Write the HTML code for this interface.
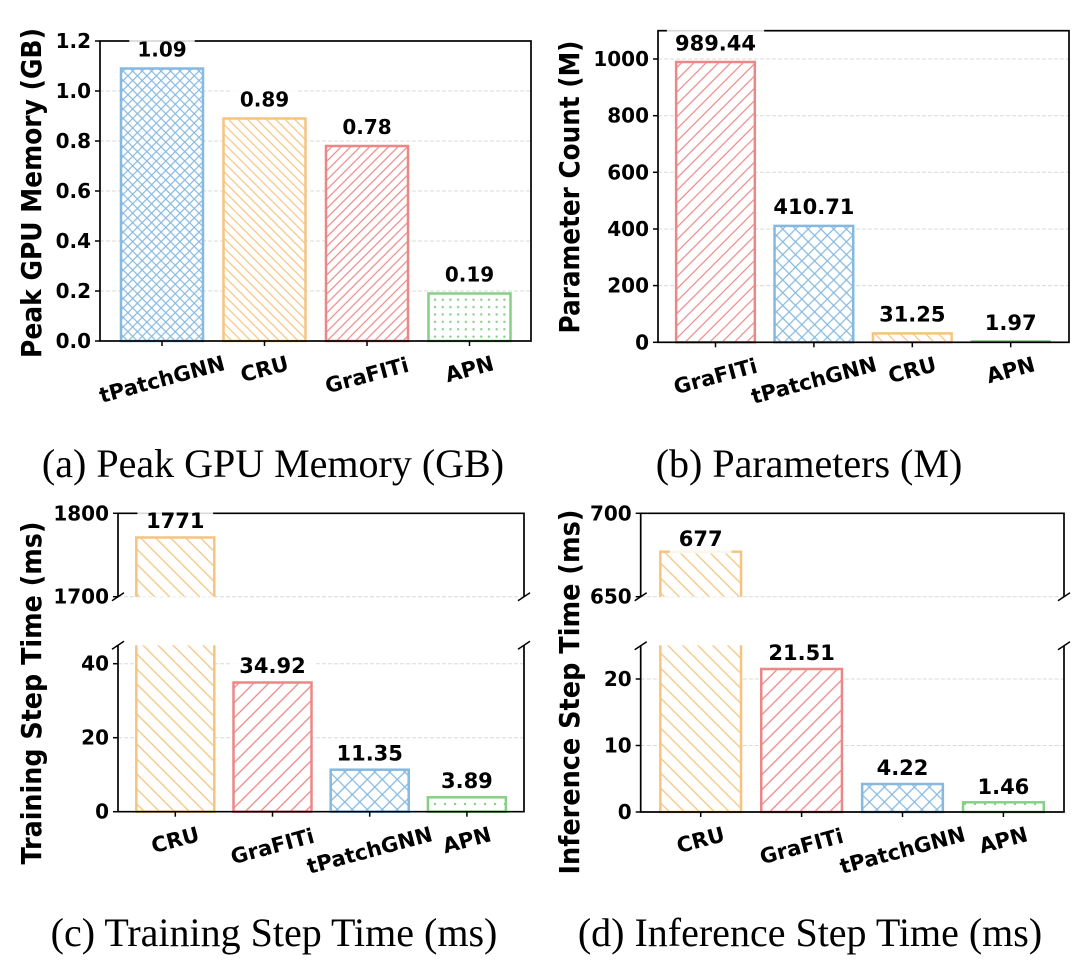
<!DOCTYPE html>
<html><head><meta charset="utf-8"><style>
html,body{margin:0;padding:0;background:#fff}
svg{display:block}
.t{font-family:"DejaVu Sans","Liberation Sans",sans-serif;font-weight:bold;font-size:20px;fill:#000}
.x{font-family:"DejaVu Sans","Liberation Sans",sans-serif;font-weight:bold;font-size:21px;fill:#000}
.v{font-family:"DejaVu Sans","Liberation Sans",sans-serif;font-weight:bold;font-size:21px;fill:#000}
.yl{font-family:"DejaVu Sans","Liberation Sans",sans-serif;font-weight:bold;font-size:28px;fill:#000}
.cap{font-family:"Liberation Serif","Times New Roman",serif;font-size:40px;fill:#000}
.grid{stroke:#d8d8d8;stroke-width:1;stroke-dasharray:4 2}
.sp{fill:none;stroke:#000;stroke-width:1.7}
.tk{stroke:#000;stroke-width:1.5}
.bb{fill:#fff;opacity:0.85}
</style></head><body>
<svg width="1080" height="964" viewBox="0 0 1080 964" xmlns="http://www.w3.org/2000/svg">
<defs>
<pattern id="aX" patternUnits="userSpaceOnUse" width="6.7" height="6.7" patternTransform="rotate(45)"><path d="M3.35 0V6.7M0 3.35H6.7" stroke="#86b9e0" stroke-width="1.2"/></pattern>
<pattern id="aB" patternUnits="userSpaceOnUse" width="6.7" height="6.7" patternTransform="rotate(-45)"><path d="M3.35 0V6.7" stroke="#f5c47e" stroke-width="1.2"/></pattern>
<pattern id="aF" patternUnits="userSpaceOnUse" width="6.7" height="6.7" patternTransform="rotate(45)"><path d="M3.35 0V6.7" stroke="#ec8787" stroke-width="1.2"/></pattern>
<pattern id="aD" patternUnits="userSpaceOnUse" width="7.7" height="7.4"><circle cx="3.85" cy="3.7" r="1.2" fill="#86cf86"/></pattern>
<pattern id="bX" patternUnits="userSpaceOnUse" width="9" height="9" patternTransform="rotate(45)"><path d="M4.5 0V9M0 4.5H9" stroke="#86b9e0" stroke-width="1.2"/></pattern>
<pattern id="bB" patternUnits="userSpaceOnUse" width="9" height="9" patternTransform="rotate(-45)"><path d="M4.5 0V9" stroke="#f5c47e" stroke-width="1.2"/></pattern>
<pattern id="bF" patternUnits="userSpaceOnUse" width="8.7" height="8.7" patternTransform="rotate(45)"><path d="M4.35 0V8.7" stroke="#ec8787" stroke-width="1.2"/></pattern>
<pattern id="cX" patternUnits="userSpaceOnUse" width="10.6" height="10.6" patternTransform="rotate(45)"><path d="M5.3 0V10.6M0 5.3H10.6" stroke="#86b9e0" stroke-width="1.3"/></pattern>
<pattern id="cB" patternUnits="userSpaceOnUse" width="10.6" height="10.6" patternTransform="rotate(-45)"><path d="M5.3 0V10.6" stroke="#f5c47e" stroke-width="1.3"/></pattern>
<pattern id="cF" patternUnits="userSpaceOnUse" width="10.6" height="10.6" patternTransform="rotate(45)"><path d="M5.3 0V10.6" stroke="#ec8787" stroke-width="1.3"/></pattern>
<pattern id="cD" patternUnits="userSpaceOnUse" width="10" height="8"><circle cx="5" cy="4" r="1.2" fill="#86cf86"/></pattern>
<clipPath id="cTop"><rect x="0" y="505" width="1080" height="91.7"/></clipPath>
<clipPath id="cBot"><rect x="0" y="645.3" width="1080" height="180"/></clipPath>
</defs>

<rect width="1080" height="964" fill="#fff"/>

<!-- PANEL A -->
<g>
<line class="grid" x1="100" y1="291" x2="531" y2="291"/>
<line class="grid" x1="100" y1="241" x2="531" y2="241"/>
<line class="grid" x1="100" y1="191" x2="531" y2="191"/>
<line class="grid" x1="100" y1="141" x2="531" y2="141"/>
<line class="grid" x1="100" y1="91" x2="531" y2="91"/>

<rect x="121" y="68.5" width="82" height="272.5" fill="#fff"/>
<rect x="121" y="68.5" width="82" height="272.5" fill="url(#aX)" stroke="#86b9e0" stroke-width="2.5"/>
<rect x="223.5" y="118.5" width="82" height="222.5" fill="#fff"/>
<rect x="223.5" y="118.5" width="82" height="222.5" fill="url(#aB)" stroke="#f5c47e" stroke-width="2.5"/>
<rect x="326" y="146" width="82" height="195" fill="#fff"/>
<rect x="326" y="146" width="82" height="195" fill="url(#aF)" stroke="#ec8787" stroke-width="2.5"/>
<rect x="428.5" y="293.5" width="82" height="47.5" fill="#fff"/>
<rect x="428.5" y="293.5" width="82" height="47.5" fill="url(#aD)" stroke="#86cf86" stroke-width="2.5"/>

<rect class="sp" x="100" y="41" width="431" height="300"/>
<g class="tk">
<line x1="95" y1="341" x2="100" y2="341"/><line x1="95" y1="291" x2="100" y2="291"/>
<line x1="95" y1="241" x2="100" y2="241"/><line x1="95" y1="191" x2="100" y2="191"/>
<line x1="95" y1="141" x2="100" y2="141"/><line x1="95" y1="91" x2="100" y2="91"/>
<line x1="95" y1="41" x2="100" y2="41"/>
<line x1="162" y1="341" x2="162" y2="346"/><line x1="264.5" y1="341" x2="264.5" y2="346"/>
<line x1="367" y1="341" x2="367" y2="346"/><line x1="469.5" y1="341" x2="469.5" y2="346"/>
</g>
<g class="t" text-anchor="end">
<text x="91" y="348">0.0</text><text x="91" y="298">0.2</text><text x="91" y="248">0.4</text>
<text x="91" y="198">0.6</text><text x="91" y="148">0.8</text><text x="91" y="98">1.0</text>
<text x="91" y="48">1.2</text>
</g>
<rect class="bb" x="129.3" y="35.5" width="65.4" height="27"/>
<rect class="bb" x="231.8" y="85.5" width="65.4" height="27"/>
<rect class="bb" x="334.3" y="113" width="65.4" height="27"/>
<rect class="bb" x="436.8" y="260.5" width="65.4" height="27"/>
<g class="t" text-anchor="middle">
<text x="162" y="56.5">1.09</text><text x="264.5" y="106.5">0.89</text>
<text x="367" y="134">0.78</text><text x="469.5" y="281.5">0.19</text>
</g>
<g class="x" text-anchor="middle" dominant-baseline="central">
<text transform="translate(162,379.5) rotate(-15)">tPatchGNN</text>
<text transform="translate(264.5,369.2) rotate(-15)">CRU</text>
<text transform="translate(367,375.5) rotate(-15)">GraFITi</text>
<text transform="translate(469.5,369.3) rotate(-15)">APN</text>
</g>
<text class="yl" transform="translate(41,193) rotate(-90)" text-anchor="middle" textLength="330" lengthAdjust="spacingAndGlyphs">Peak GPU Memory (GB)</text>
<text class="cap" x="273" y="477" text-anchor="middle">(a) Peak GPU Memory (GB)</text>
</g>

<!-- PANEL B -->
<g>
<line class="grid" x1="658" y1="285.6" x2="1069" y2="285.6"/>
<line class="grid" x1="658" y1="229" x2="1069" y2="229"/>
<line class="grid" x1="658" y1="172.3" x2="1069" y2="172.3"/>
<line class="grid" x1="658" y1="115.7" x2="1069" y2="115.7"/>
<line class="grid" x1="658" y1="59" x2="1069" y2="59"/>

<rect x="676.15" y="62" width="78.7" height="280.3" fill="#fff"/>
<rect x="676.15" y="62" width="78.7" height="280.3" fill="url(#bF)" stroke="#ec8787" stroke-width="2.5"/>
<rect x="774.55" y="225.9" width="78.7" height="116.4" fill="#fff"/>
<rect x="774.55" y="225.9" width="78.7" height="116.4" fill="url(#bX)" stroke="#86b9e0" stroke-width="2.5"/>
<rect x="872.95" y="333.4" width="78.7" height="8.9" fill="#fff"/>
<rect x="872.95" y="333.4" width="78.7" height="8.9" fill="url(#bB)" stroke="#f5c47e" stroke-width="2.5"/>
<rect x="971.35" y="341.1" width="78.7" height="1.2" fill="#5fae5f" stroke="#6dbb6d" stroke-width="1.5"/>

<rect class="sp" x="658" y="30.7" width="411" height="311.6"/>
<g class="tk">
<line x1="653" y1="342.3" x2="658" y2="342.3"/><line x1="653" y1="285.6" x2="658" y2="285.6"/>
<line x1="653" y1="229" x2="658" y2="229"/><line x1="653" y1="172.3" x2="658" y2="172.3"/>
<line x1="653" y1="115.7" x2="658" y2="115.7"/><line x1="653" y1="59" x2="658" y2="59"/>
<line x1="715.5" y1="342.3" x2="715.5" y2="347.3"/><line x1="813.9" y1="342.3" x2="813.9" y2="347.3"/>
<line x1="912.3" y1="342.3" x2="912.3" y2="347.3"/><line x1="1010.7" y1="342.3" x2="1010.7" y2="347.3"/>
</g>
<g class="t" text-anchor="end">
<text x="649" y="349.3">0</text><text x="649" y="292.6">200</text><text x="649" y="236">400</text>
<text x="649" y="179.3">600</text><text x="649" y="122.7">800</text><text x="649" y="66">1000</text>
</g>
<rect class="bb" x="666.9" y="29.5" width="97.2" height="27"/>
<rect class="bb" x="765.3" y="193" width="97.2" height="27"/>
<rect class="bb" x="870.6" y="300.5" width="83.3" height="27"/>
<rect class="bb" x="976" y="309" width="69.4" height="27"/>
<g class="v" text-anchor="middle">
<text x="715.5" y="50.5">989.44</text><text x="813.9" y="214">410.71</text>
<text x="912.3" y="321.5">31.25</text><text x="1010.7" y="330">1.97</text>
</g>
<g class="x" text-anchor="middle" dominant-baseline="central">
<text transform="translate(715.5,376.5) rotate(-15)">GraFITi</text>
<text transform="translate(813.9,380.5) rotate(-15)">tPatchGNN</text>
<text transform="translate(912.3,370.2) rotate(-15)">CRU</text>
<text transform="translate(1010.7,370.3) rotate(-15)">APN</text>
</g>
<text class="yl" transform="translate(579,187) rotate(-90)" text-anchor="middle" textLength="293" lengthAdjust="spacingAndGlyphs">Parameter Count (M)</text>
<text class="cap" x="809" y="477" text-anchor="middle">(b) Parameters (M)</text>
</g>

<!-- PANEL C -->
<g>
<line class="grid" x1="118" y1="596.7" x2="524" y2="596.7"/>
<line class="grid" x1="118" y1="663.7" x2="524" y2="663.7"/>
<line class="grid" x1="118" y1="737.7" x2="524" y2="737.7"/>

<g clip-path="url(#cTop)">
<rect x="136.3" y="537.5" width="78" height="90" fill="#fff"/>
<rect x="136.3" y="537.5" width="78" height="90" fill="url(#cB)" stroke="#f5c47e" stroke-width="2.5"/>
</g>
<g clip-path="url(#cBot)">
<rect x="136.3" y="630" width="78" height="181.7" fill="#fff"/>
<rect x="136.3" y="630" width="78" height="181.7" fill="url(#cB)" stroke="#f5c47e" stroke-width="2.5"/>
</g>
<rect x="233.5" y="682.5" width="78" height="129.2" fill="#fff"/>
<rect x="233.5" y="682.5" width="78" height="129.2" fill="url(#cF)" stroke="#ec8787" stroke-width="2.5"/>
<rect x="330.7" y="769.7" width="78" height="42" fill="#fff"/>
<rect x="330.7" y="769.7" width="78" height="42" fill="url(#cX)" stroke="#86b9e0" stroke-width="2.5"/>
<rect x="427.9" y="797.3" width="78" height="14.4" fill="#fff"/>
<rect x="427.9" y="797.3" width="78" height="14.4" fill="url(#cD)" stroke="#86cf86" stroke-width="2.5"/>

<path class="sp" d="M118 596.7V513.3H524V596.7"/>
<path class="sp" d="M118 645.2V811.7H524V645.2"/>
<g class="tk">
<line x1="112" y1="600.7" x2="124" y2="592.7"/><line x1="518" y1="600.7" x2="530" y2="592.7"/>
<line x1="112" y1="649.2" x2="124" y2="641.2"/><line x1="518" y1="649.2" x2="530" y2="641.2"/>
<line x1="113" y1="513.3" x2="118" y2="513.3"/><line x1="113" y1="596.7" x2="118" y2="596.7"/>
<line x1="113" y1="811.7" x2="118" y2="811.7"/><line x1="113" y1="737.7" x2="118" y2="737.7"/>
<line x1="113" y1="663.7" x2="118" y2="663.7"/>
<line x1="175.3" y1="811.7" x2="175.3" y2="816.7"/><line x1="272.5" y1="811.7" x2="272.5" y2="816.7"/>
<line x1="369.7" y1="811.7" x2="369.7" y2="816.7"/><line x1="466.9" y1="811.7" x2="466.9" y2="816.7"/>
</g>
<g class="t" text-anchor="end">
<text x="109" y="520.3">1800</text><text x="109" y="603.7">1700</text>
<text x="109" y="818.7">0</text><text x="109" y="744.7">20</text><text x="109" y="670.7">40</text>
</g>
<rect class="bb" x="137.4" y="507" width="75.7" height="28"/>
<rect class="bb" x="230.8" y="652" width="83.3" height="27"/>
<rect class="bb" x="328" y="739.5" width="83.3" height="27"/>
<rect class="bb" x="432.2" y="767" width="69.4" height="27"/>
<g class="v" text-anchor="middle">
<text x="175.3" y="528">1771</text><text x="272.5" y="673">34.92</text>
<text x="369.7" y="760.5">11.35</text><text x="466.9" y="788">3.89</text>
</g>
<g class="x" text-anchor="middle" dominant-baseline="central">
<text transform="translate(175.3,840.2) rotate(-15)">CRU</text>
<text transform="translate(272.5,846.5) rotate(-15)">GraFITi</text>
<text transform="translate(369.7,850.5) rotate(-15)">tPatchGNN</text>
<text transform="translate(466.9,840.3) rotate(-15)">APN</text>
</g>
<text class="yl" transform="translate(41,693) rotate(-90)" text-anchor="middle" textLength="343" lengthAdjust="spacingAndGlyphs">Training Step Time (ms)</text>
<text class="cap" x="274" y="946" text-anchor="middle">(c) Training Step Time (ms)</text>
</g>

<!-- PANEL D -->
<g>
<line class="grid" x1="640.7" y1="596.7" x2="1064" y2="596.7"/>
<line class="grid" x1="640.7" y1="745.5" x2="1064" y2="745.5"/>
<line class="grid" x1="640.7" y1="679" x2="1064" y2="679"/>

<g clip-path="url(#cTop)">
<rect x="660.35" y="551.7" width="80.7" height="80" fill="#fff"/>
<rect x="660.35" y="551.7" width="80.7" height="80" fill="url(#cB)" stroke="#f5c47e" stroke-width="2.5"/>
</g>
<g clip-path="url(#cBot)">
<rect x="660.35" y="630" width="80.7" height="182" fill="#fff"/>
<rect x="660.35" y="630" width="80.7" height="182" fill="url(#cB)" stroke="#f5c47e" stroke-width="2.5"/>
</g>
<rect x="761.25" y="669" width="80.7" height="143" fill="#fff"/>
<rect x="761.25" y="669" width="80.7" height="143" fill="url(#cF)" stroke="#ec8787" stroke-width="2.5"/>
<rect x="862.15" y="784" width="80.7" height="28" fill="#fff"/>
<rect x="862.15" y="784" width="80.7" height="28" fill="url(#cX)" stroke="#86b9e0" stroke-width="2.5"/>
<rect x="963.05" y="802.3" width="80.7" height="9.7" fill="#fff"/>
<rect x="963.05" y="802.3" width="80.7" height="9.7" fill="url(#cD)" stroke="#86cf86" stroke-width="2.5"/>

<path class="sp" d="M640.7 596.7V513.3H1064V596.7"/>
<path class="sp" d="M640.7 645.7V812H1064V645.7"/>
<g class="tk">
<line x1="634.7" y1="600.7" x2="646.7" y2="592.7"/><line x1="1058" y1="600.7" x2="1070" y2="592.7"/>
<line x1="634.7" y1="649.7" x2="646.7" y2="641.7"/><line x1="1058" y1="649.7" x2="1070" y2="641.7"/>
<line x1="635.7" y1="513.3" x2="640.7" y2="513.3"/><line x1="635.7" y1="596.7" x2="640.7" y2="596.7"/>
<line x1="635.7" y1="812" x2="640.7" y2="812"/><line x1="635.7" y1="745.5" x2="640.7" y2="745.5"/>
<line x1="635.7" y1="679" x2="640.7" y2="679"/>
<line x1="700.7" y1="812" x2="700.7" y2="817"/><line x1="801.6" y1="812" x2="801.6" y2="817"/>
<line x1="902.5" y1="812" x2="902.5" y2="817"/><line x1="1003.4" y1="812" x2="1003.4" y2="817"/>
</g>
<g class="t" text-anchor="end">
<text x="631.7" y="520.3">700</text><text x="631.7" y="603.7">650</text>
<text x="631.7" y="819">0</text><text x="631.7" y="752.5">10</text><text x="631.7" y="686">20</text>
</g>
<rect class="bb" x="669.8" y="526" width="61.8" height="27.5"/>
<rect class="bb" x="759.95" y="639" width="83.3" height="27"/>
<rect class="bb" x="867.8" y="754" width="69.4" height="27"/>
<rect class="bb" x="968.7" y="773" width="69.4" height="27"/>
<g class="v" text-anchor="middle">
<text x="700.7" y="546">677</text><text x="801.6" y="660">21.51</text>
<text x="902.5" y="775">4.22</text><text x="1003.4" y="794">1.46</text>
</g>
<g class="x" text-anchor="middle" dominant-baseline="central">
<text transform="translate(700.7,840.2) rotate(-15)">CRU</text>
<text transform="translate(801.6,846.5) rotate(-15)">GraFITi</text>
<text transform="translate(902.5,850.5) rotate(-15)">tPatchGNN</text>
<text transform="translate(1003.4,840.3) rotate(-15)">APN</text>
</g>
<text class="yl" transform="translate(579,692) rotate(-90)" text-anchor="middle" textLength="365" lengthAdjust="spacingAndGlyphs">Inference Step Time (ms)</text>
<text class="cap" x="810" y="946" text-anchor="middle">(d) Inference Step Time (ms)</text>
</g>
</svg>
</body></html>
